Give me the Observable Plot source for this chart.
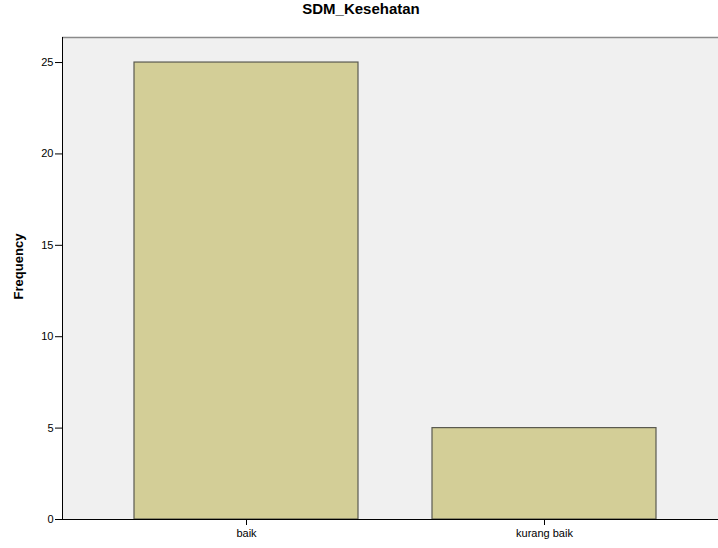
<!DOCTYPE html>
<html>
<head>
<meta charset="utf-8">
<script src="https://cdn.jsdelivr.net/npm/d3@7"></script>
<script src="https://cdn.jsdelivr.net/npm/@observablehq/plot@0.6"></script>
<style>
  html, body { margin: 0; padding: 0; background: #fff; overflow: hidden; width: 718px; height: 548px; }
  #title { width: 718px; height: 30px; line-height: 30px; text-align: center; font: bold 15px "Liberation Sans", Arial, sans-serif; color: #000; padding-left: 4px; box-sizing: border-box; }
  #chart { width: 718px; overflow: hidden; }
  svg { display: block; max-width: none !important; }
</style>
</head>
<body>
<div id="title">SDM_Kesehatan</div>
<div id="chart"></div>
<script>
const categories = ["baik", "kurang baik"];
const frequencies = [25, 5];
const yTicks = [0, 5, 10, 15, 20, 25];
const yMax = 26.37;
const yLabel = "Frequency";

const data = categories.map((c, i) => ({cat: c, freq: frequencies[i]}));

const chart = Plot.plot({
  width: 728,
  height: 518,
  marginLeft: 62,
  marginRight: 0,
  marginTop: 7,
  marginBottom: 29,
  style: {fontFamily: "'Liberation Sans', Arial, sans-serif", fontSize: "11px", color: "#000", background: "transparent", overflow: "hidden", maxWidth: "none"},
  x: {domain: categories, paddingInner: 0.25, paddingOuter: 0.24, label: null},
  y: {domain: [0, yMax], label: null},
  marks: [
    Plot.frame({fill: "#f0f0f0", stroke: "none"}),
    Plot.ruleY([yMax], {stroke: "#8a8a8a", strokeWidth: 1.5}),
    Plot.barY(data, {x: "cat", y: "freq", fill: "#d3ce97", stroke: "#5a5a50", strokeWidth: 1.2}),
    Plot.ruleY([0], {stroke: "#000", strokeWidth: 1}),
    Plot.frame({anchor: "left", stroke: "#000", strokeWidth: 1}),
    Plot.axisY({ticks: yTicks, tickSize: 7, tickPadding: 2, label: null, fontSize: 11}),
    Plot.axisX({tickSize: 6, tickPadding: 4, label: null, fontSize: 11}),
    Plot.text([yLabel], {frameAnchor: "left", text: d => d, rotate: -90, textAnchor: "middle", dx: -44, dy: -12, fontWeight: "bold", fontSize: 13})
  ]
});
document.getElementById("chart").appendChild(chart);
</script>
</body>
</html>
